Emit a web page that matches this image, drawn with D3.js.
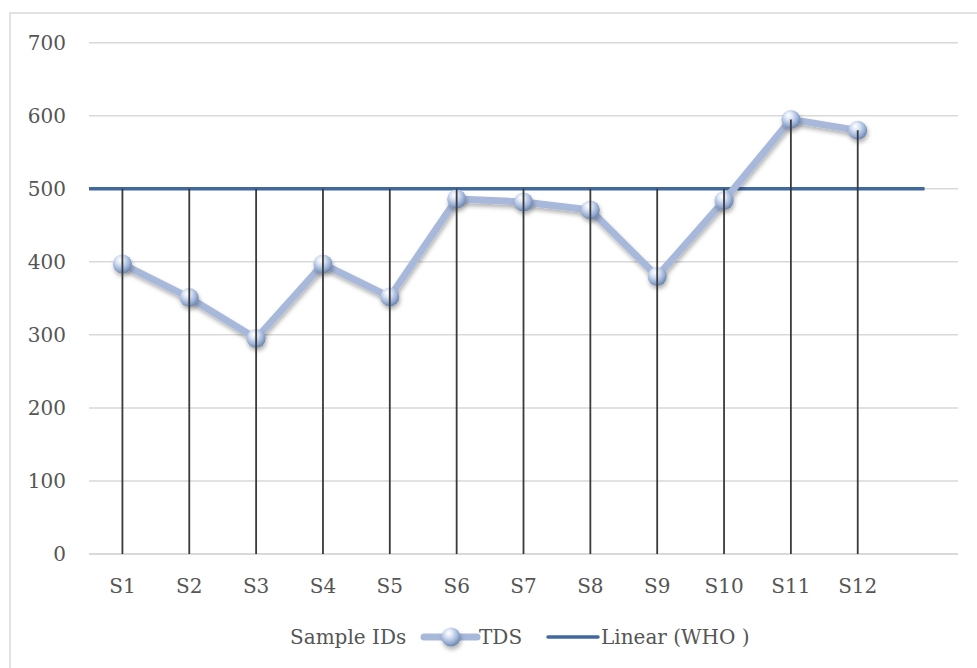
<!DOCTYPE html>
<html><head><meta charset="utf-8">
<script src="https://cdn.jsdelivr.net/npm/d3@7"></script>
<style>
html,body{margin:0;padding:0;background:#fff;}
svg{display:block;}
text{font-family:"DejaVu Serif","Liberation Serif",serif;fill:#555555;}
</style></head>
<body>
<svg id="chart" width="977" height="668"></svg>
<script>
// ---- data ----
const categories = ["S1","S2","S3","S4","S5","S6","S7","S8","S9","S10","S11","S12",""];
const sampleIds = ["S1","S2","S3","S4","S5","S6","S7","S8","S9","S10","S11","S12"];
const tdsValues = [397, 351, 295, 397, 352, 486, 482, 471, 380, 484, 595, 580];
const whoLimit = [500, 500];
const yTicks = [0, 100, 200, 300, 400, 500, 600, 700];
const legendLabels = ["Sample IDs", "TDS", "Linear (WHO )"];

const svg = d3.select("#chart");
const plot = {left: 89, right: 958, top: 42.7, bottom: 554};
const FS = 20;

const x = d3.scaleBand().domain(categories).range([plot.left, plot.right]).padding(0);
const y = d3.scaleLinear().domain([0, 700]).range([plot.bottom, plot.top]);
const cx = d => x(d) + x.bandwidth() / 2;

const defs = svg.append("defs");
const grad = defs.append("radialGradient").attr("id","ball")
  .attr("cx","40%").attr("cy","35%").attr("r","65%").attr("fx","38%").attr("fy","28%");
grad.append("stop").attr("offset","0%").attr("stop-color","#ffffff");
grad.append("stop").attr("offset","30%").attr("stop-color","#dfe7f5");
grad.append("stop").attr("offset","70%").attr("stop-color","#9fb5da");
grad.append("stop").attr("offset","100%").attr("stop-color","#6f86ad");
const sh = defs.append("filter").attr("id","shadow").attr("x","-30%").attr("y","-30%").attr("width","160%").attr("height","180%");
sh.append("feDropShadow").attr("dx",1).attr("dy",3).attr("stdDeviation",2).attr("flood-color","#000").attr("flood-opacity",0.3);

// outer frame
svg.append("rect").attr("x",10).attr("y",13).attr("width",1000).attr("height",700)
  .attr("fill","none").attr("stroke","#d9d9d9").attr("stroke-width",1.5);

// gridlines
svg.append("g").selectAll("line").data(yTicks).join("line")
  .attr("x1",plot.left).attr("x2",plot.right)
  .attr("y1",d=>y(d)).attr("y2",d=>y(d))
  .attr("stroke","#d9d9d9").attr("stroke-width",d=>d===0?2:1.5);

// y axis labels
const yAxis = d3.axisLeft(y).tickValues(yTicks).tickSize(0).tickPadding(23);
const ya = svg.append("g").attr("transform",`translate(${plot.left},0)`).call(yAxis);
ya.select(".domain").remove();
ya.selectAll("text").attr("font-size",FS).style("font-family",'"DejaVu Serif",serif').attr("fill","#555555");

// x axis labels
const xAxis = d3.axisBottom(x).tickValues(sampleIds).tickSize(0).tickPadding(25);
const xa = svg.append("g").attr("transform",`translate(0,${plot.bottom})`).call(xAxis);
xa.select(".domain").remove();
xa.selectAll("text").attr("font-size",FS).style("font-family",'"DejaVu Serif",serif').attr("fill","#555555");

// WHO line
svg.append("line")
  .attr("x1", x(categories[0])).attr("x2", cx(categories[categories.length-1]))
  .attr("y1", y(whoLimit[0])).attr("y2", y(whoLimit[1]))
  .attr("stroke","#41699e").attr("stroke-width",3.5);

// TDS line
const line = d3.line().x((d,i)=>cx(sampleIds[i])).y(d=>y(d));
svg.append("path").datum(tdsValues).attr("d",line)
  .attr("fill","none").attr("stroke","#a7b8db").attr("stroke-width",7)
  .attr("stroke-linejoin","round").attr("filter","url(#shadow)");

// markers
svg.append("g").selectAll("circle").data(tdsValues).join("circle")
  .attr("cx",(d,i)=>cx(sampleIds[i])).attr("cy",d=>y(d)).attr("r",9.5)
  .attr("fill","url(#ball)").attr("filter","url(#shadow)");

// drop lines
svg.append("g").selectAll("line").data(tdsValues).join("line")
  .attr("x1",(d,i)=>cx(sampleIds[i])).attr("x2",(d,i)=>cx(sampleIds[i]))
  .attr("y1",y(0)).attr("y2",d=>y(Math.max(d, whoLimit[0])))
  .attr("stroke","#3a3a3a").attr("stroke-width",1.8);

// legend
const lg = svg.append("g").attr("font-size",FS);
const ly = 637;
lg.append("text").attr("x",290).attr("y",ly).attr("dy","0.35em").text(legendLabels[0]);
lg.append("line").attr("x1",424).attr("x2",477).attr("y1",ly).attr("y2",ly)
  .attr("stroke","#a7b8db").attr("stroke-width",7).attr("stroke-linecap","round");
lg.append("circle").attr("cx",451).attr("cy",ly).attr("r",9.5).attr("fill","url(#ball)").attr("filter","url(#shadow)");
lg.append("text").attr("x",479).attr("y",ly).attr("dy","0.35em").text(legendLabels[1]);
lg.append("line").attr("x1",548).attr("x2",598).attr("y1",ly).attr("y2",ly)
  .attr("stroke","#41699e").attr("stroke-width",3.5).attr("stroke-linecap","round");
lg.append("text").attr("x",601).attr("y",ly).attr("dy","0.35em").text(legendLabels[2]);
</script>
</body></html>
